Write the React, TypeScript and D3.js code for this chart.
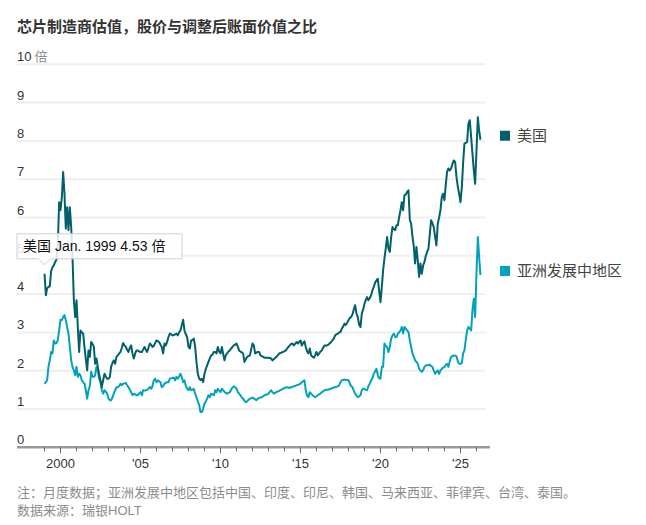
import React, { useEffect, useRef } from "react";
import * as d3 from "d3";

// Monthly series, first value is Jan 1999
const startYear = 1999;
const startMonth = 0;

const usValues = [
  4.53, 3.97, 4.15, 4.19, 4.2, 4.6, 4.7, 4.75, 4.84, 4.9, 5.3, 6.4,
  6.19, 6.53, 7.19, 6.62, 5.71, 6.27, 5.67, 6.27, 5.75, 4.97, 3.84, 3.4,
  3.84, 3.1, 2.49, 3.05, 3.0, 2.97, 2.62, 2.3, 2.01, 2.53, 2.36, 2.75,
  2.7, 2.62, 2.18, 2.32, 2.1, 1.9, 1.75, 1.57, 1.75, 1.92, 1.85, 1.79,
  1.79, 1.84, 2.1, 2.2, 2.27, 2.18, 2.36, 2.4, 2.45, 2.49, 2.6, 2.72,
  2.66, 2.62, 2.55, 2.49, 2.6, 2.66, 2.45, 2.32, 2.45, 2.53, 2.53, 2.5,
  2.49, 2.49, 2.55, 2.62, 2.55, 2.49, 2.6, 2.71, 2.68, 2.62, 2.65, 2.72,
  2.79, 2.77, 2.75, 2.68, 2.62, 2.45, 2.71, 2.66, 2.75, 2.88, 2.97, 2.95,
  2.92, 2.93, 2.95, 2.97, 2.92, 3.0, 3.05, 3.19, 3.33, 3.05, 2.95, 2.88,
  2.62, 2.58, 2.79, 2.8, 2.84, 2.62, 2.23, 1.92, 1.8, 1.75, 1.79, 1.7,
  1.92, 2.05, 2.14, 2.23, 2.32, 2.4, 2.42, 2.49, 2.49, 2.45, 2.62, 2.5,
  2.45, 2.62, 2.45, 2.27, 2.4, 2.45, 2.5, 2.53, 2.58, 2.62, 2.66, 2.68,
  2.71, 2.62, 2.53, 2.5, 2.48, 2.45, 2.23, 2.3, 2.36, 2.38, 2.4, 2.55,
  2.71, 2.66, 2.45, 2.47, 2.49, 2.49, 2.4, 2.38, 2.36, 2.34, 2.34, 2.34,
  2.34, 2.33, 2.32, 2.27, 2.3, 2.33, 2.36, 2.4, 2.45, 2.46, 2.48, 2.49,
  2.51, 2.53, 2.58, 2.62, 2.66, 2.7, 2.71, 2.66, 2.7, 2.75, 2.71, 2.75,
  2.79, 2.66, 2.72, 2.77, 2.62, 2.5, 2.45, 2.58, 2.4, 2.37, 2.34, 2.4,
  2.49, 2.4, 2.45, 2.5, 2.53, 2.6, 2.66, 2.66, 2.66, 2.68, 2.72, 2.75,
  2.8, 2.84, 2.92, 2.95, 2.97, 3.0, 3.01, 3.1, 3.15, 3.23, 3.19, 3.25,
  3.32, 3.38, 3.4, 3.47, 3.6, 3.71, 3.5, 3.4, 3.2, 3.14, 3.49, 3.6,
  3.75, 3.85, 3.92, 3.84, 3.9, 3.97, 4.1, 4.19, 4.3, 4.36, 4.4, 4.1,
  3.79, 4.19, 4.62, 4.93, 5.2, 5.49, 5.19, 5.1, 5.49, 5.75, 5.7, 5.67,
  5.8, 5.8, 6.0, 6.19, 6.4, 6.19, 6.58, 6.6, 6.67, 6.71, 5.93, 5.84,
  5.5, 5.23, 4.8, 5.23, 4.88, 4.45, 4.8, 4.53, 4.75, 4.84, 5.0, 5.1,
  5.19, 5.58, 5.93, 5.85, 5.75, 5.5, 5.27, 5.84, 6.0, 6.19, 6.53, 6.62,
  6.45, 6.88, 7.19, 7.28, 7.23, 7.28, 7.4, 7.49, 7.45, 7.06, 6.8, 6.62,
  6.4, 6.8, 7.41, 7.93, 7.95, 7.97, 8.45, 8.54, 8.1, 7.67, 7.23, 6.88,
  7.75, 8.62, 8.28, 8.03,
];

const asiaValues = [
  1.66, 1.7, 1.75, 2.1, 2.27, 2.49, 2.45, 2.79, 2.71, 2.72, 2.8, 3.05,
  3.33, 3.32, 3.4, 3.45, 3.32, 3.14, 2.97, 2.62, 2.27, 2.1, 2.01, 1.88,
  2.1, 1.84, 1.92, 1.88, 1.75, 1.7, 1.66, 1.49, 1.27, 1.49, 1.6, 1.97,
  1.84, 1.84, 1.88, 2.1, 2.01, 1.8, 1.7, 1.49, 1.4, 1.49, 1.45, 1.4,
  1.27, 1.23, 1.23, 1.3, 1.4, 1.49, 1.57, 1.57, 1.6, 1.66, 1.62, 1.66,
  1.67, 1.68, 1.62, 1.57, 1.5, 1.44, 1.36, 1.4, 1.38, 1.36, 1.36, 1.4,
  1.44, 1.36, 1.49, 1.48, 1.49, 1.5, 1.53, 1.57, 1.53, 1.6, 1.75, 1.79,
  1.7, 1.75, 1.72, 1.7, 1.57, 1.6, 1.66, 1.68, 1.7, 1.7, 1.79, 1.8,
  1.81, 1.82, 1.75, 1.84, 1.79, 1.85, 1.92, 1.84, 1.7, 1.75, 1.6, 1.53,
  1.49, 1.57, 1.49, 1.5, 1.53, 1.4, 1.31, 1.2, 1.1, 0.92, 0.92, 1.01,
  1.14, 1.2, 1.27, 1.36, 1.31, 1.4, 1.38, 1.36, 1.49, 1.44, 1.53, 1.48,
  1.44, 1.53, 1.49, 1.45, 1.42, 1.4, 1.42, 1.44, 1.5, 1.56, 1.59, 1.57,
  1.53, 1.44, 1.4, 1.36, 1.3, 1.27, 1.22, 1.18, 1.2, 1.24, 1.27, 1.28,
  1.3, 1.28, 1.25, 1.23, 1.27, 1.29, 1.3, 1.31, 1.33, 1.36, 1.37, 1.38,
  1.4, 1.45, 1.49, 1.44, 1.4, 1.42, 1.44, 1.46, 1.47, 1.49, 1.51, 1.53,
  1.55, 1.56, 1.57, 1.56, 1.55, 1.57, 1.58, 1.59, 1.6, 1.62, 1.63, 1.64,
  1.66, 1.7, 1.72, 1.75, 1.49, 1.35, 1.31, 1.44, 1.4, 1.36, 1.33, 1.31,
  1.33, 1.36, 1.38, 1.4, 1.44, 1.46, 1.49, 1.5, 1.5, 1.51, 1.52, 1.53,
  1.55, 1.56, 1.57, 1.58, 1.59, 1.62, 1.7, 1.75, 1.76, 1.77, 1.76, 1.76,
  1.75, 1.66, 1.6, 1.57, 1.48, 1.4, 1.35, 1.31, 1.33, 1.36, 1.49, 1.53,
  1.52, 1.5, 1.49, 1.6, 1.66, 1.75, 1.8, 1.92, 1.98, 2.05, 1.88, 1.8,
  1.79, 2.1, 2.1, 2.71, 2.65, 2.62, 2.49, 2.62, 2.84, 2.92, 2.97, 2.88,
  2.88, 2.97, 3.0, 3.05, 3.14, 2.97, 3.14, 3.1, 3.05, 3.01, 2.79, 2.62,
  2.45, 2.36, 2.27, 2.23, 2.18, 2.05, 2.01, 1.97, 2.01, 2.1, 2.14, 2.14,
  2.14, 2.16, 2.12, 2.1, 2.0, 1.92, 1.97, 2.01, 1.92, 2.0, 2.05, 2.08,
  2.1, 2.15, 2.18, 2.1, 2.25, 2.36, 2.38, 2.4, 2.39, 2.38, 2.25, 2.18,
  2.18, 2.2, 2.45, 2.53, 2.8, 3.05, 3.14, 3.1, 3.05, 3.58, 3.88, 3.4,
  4.55, 5.49, 5.0, 4.5,
];

const seriesNames = ["美国", "亚洲发展中地区"];
const yTicks = [0, 1, 2, 3, 4, 5, 6, 7, 8, 9, 10];
const xTickYears = [2000, 2005, 2010, 2015, 2020, 2025];
const xTickLabels = ["2000", "'05", "'10", "'15", "'20", "'25"];
const minorTickYears = d3.range(1999, 2027);
const monthNames = ["Jan.", "Feb.", "Mar.", "Apr.", "May", "Jun.", "Jul.", "Aug.", "Sep.", "Oct.", "Nov.", "Dec."];

const title = "芯片制造商估值，股价与调整后账面价值之比";
const unit = "倍";
const noteLines = [
  "注：月度数据；亚洲发展中地区包括中国、印度、印尼、韩国、马来西亚、菲律宾、台湾、泰国。",
  "数据来源：瑞银HOLT",
];

const colors = ["#00616a", "#00a3bd"];
const FONT = "'Liberation Sans', Arial, 'Noto Sans CJK SC', sans-serif";

const toSeries = (values: number[]) =>
  values.map((v, i) => ({ date: new Date(startYear, startMonth + i, 1), value: v }));

export default function App() {
  const svgRef = useRef<SVGSVGElement>(null);

  useEffect(() => {
    const svg = d3.select(svgRef.current);
    svg.selectAll("*").remove();

    const width = 646;
    const height = 525;
    const left = 17;

    const x = d3.scaleTime()
      .domain([new Date(2000, 0, 1), new Date(2025, 0, 1)])
      .range([60.5, 460.5]);
    const y = d3.scaleLinear().domain([0, 10]).range([447.3, 64.3]);

    svg.attr("width", width).attr("height", height);

    // title
    svg.append("text")
      .attr("x", left).attr("y", 32)
      .attr("font-family", FONT).attr("font-size", 15).attr("font-weight", "bold")
      .attr("fill", "#333")
      .text(title);

    // horizontal gridlines
    svg.append("g")
      .selectAll("line")
      .data(yTicks.filter((t) => t > 0))
      .enter()
      .append("line")
      .attr("x1", left).attr("x2", 485)
      .attr("y1", (d) => y(d)).attr("y2", (d) => y(d))
      .attr("stroke", "#efefef").attr("stroke-width", 2);

    // y labels sit just above their gridline
    const yLab = svg.append("g")
      .selectAll("text")
      .data(yTicks)
      .enter()
      .append("text")
      .attr("x", left).attr("y", (d) => y(d) - 3)
      .attr("font-family", FONT).attr("font-size", 13)
      .attr("fill", "#333");
    yLab.append("tspan").text((d) => String(d));
    yLab.filter((d) => d === 10)
      .append("tspan").attr("dx", 3).attr("fill", "#8c8c8c").text(unit);

    // baseline and year ticks
    svg.append("line")
      .attr("x1", left).attr("x2", 490)
      .attr("y1", y(0)).attr("y2", y(0))
      .attr("stroke", "#999").attr("stroke-width", 2.5);

    svg.append("g")
      .selectAll("line")
      .data(minorTickYears)
      .enter()
      .append("line")
      .attr("x1", (d) => x(new Date(d, 0, 1))).attr("x2", (d) => x(new Date(d, 0, 1)))
      .attr("y1", y(0))
      .attr("y2", (d) => y(0) + (d % 5 === 0 ? 6 : 4))
      .attr("stroke", "#666").attr("stroke-width", 1);

    svg.append("g")
      .selectAll("text")
      .data(xTickYears)
      .enter()
      .append("text")
      .attr("x", (d) => x(new Date(d, 0, 1)))
      .attr("y", 468)
      .attr("text-anchor", "middle")
      .attr("font-family", FONT).attr("font-size", 13)
      .attr("fill", "#333")
      .text((_, i) => xTickLabels[i]);

    // lines
    const line = d3.line<{ date: Date; value: number }>()
      .x((d) => x(d.date))
      .y((d) => y(d.value));

    const allSeries = [toSeries(usValues), toSeries(asiaValues)];

    allSeries.slice().reverse().forEach((data, ri) => {
      const i = allSeries.length - 1 - ri;
      svg.append("path")
        .datum(data)
        .attr("d", line)
        .attr("fill", "none")
        .attr("stroke", colors[i])
        .attr("stroke-width", 2)
        .attr("stroke-linejoin", "round");
    });

    // legend labels next to the last value
    allSeries.forEach((data, i) => {
      const last = data[data.length - 1];
      const cy = y(last.value) - 4;
      svg.append("rect")
        .attr("x", 500).attr("y", cy - 5)
        .attr("width", 10).attr("height", 10)
        .attr("fill", colors[i]);
      svg.append("text")
        .attr("x", 517).attr("y", cy + 5)
        .attr("font-family", FONT).attr("font-size", 15)
        .attr("fill", "#444")
        .text(seriesNames[i]);
    });

    // tooltip on the first US point
    const first = allSeries[0][0];
    const px = x(first.date);
    const py = y(first.value);
    const boxBottom = py - 15;
    const boxTop = boxBottom - 25;
    const tip = svg.append("g");
    tip.append("path")
      .attr("d", `M${left},${boxTop} H182 V${boxBottom} H${px + 6} L${px},${boxBottom + 6} L${px - 6},${boxBottom} H${left} Z`)
      .attr("fill", "#fff").attr("fill-opacity", 0.85)
      .attr("stroke", "#cfcfcf").attr("stroke-width", 1);
    tip.append("text")
      .attr("x", left + 6).attr("y", boxBottom - 7.5)
      .attr("font-family", FONT).attr("font-size", 14)
      .attr("fill", "#111")
      .text(`${seriesNames[0]} ${monthNames[first.date.getMonth()]} ${first.date.getFullYear()} ${first.value.toFixed(2)} ${unit}`);

    // notes
    svg.append("g")
      .selectAll("text")
      .data(noteLines)
      .enter()
      .append("text")
      .attr("x", left).attr("y", (_, i) => 497 + i * 18)
      .attr("font-family", FONT).attr("font-size", 13)
      .attr("fill", "#8c8c8c")
      .text((d) => d);
  }, []);

  return (
    <div style={{ position: "absolute", left: 0, top: 0, width: 646, height: 525, background: "#fff" }}>
      <svg ref={svgRef}></svg>
    </div>
  );
}
